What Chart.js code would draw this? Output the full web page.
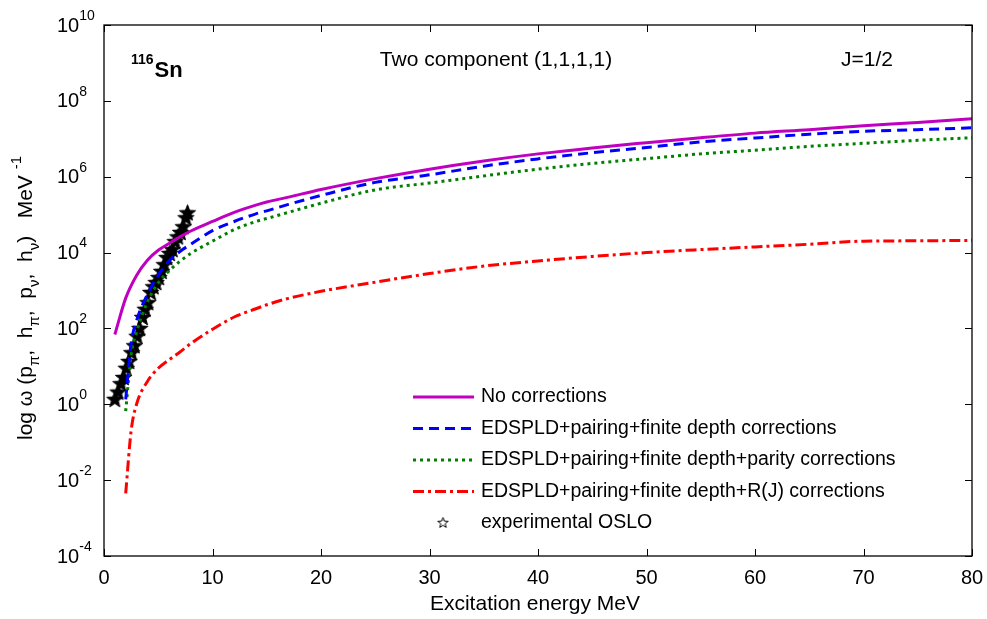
<!DOCTYPE html>
<html>
<head>
<meta charset="utf-8">
<script src="https://cdn.jsdelivr.net/npm/chart.js@4.4.0/dist/chart.umd.min.js"></script>
<style>
  html, body { margin: 0; padding: 0; background: #fff; }
  #wrap { width: 987px; height: 619px; }
</style>
</head>
<body>
<div id="wrap"><canvas id="myChart" width="987" height="619"></canvas></div>
<script>
// (x in MeV, y = level density)
var energyNoCorr = [1, 2, 3, 4, 5, 6, 7, 8, 10, 12, 14, 15, 17, 20, 25, 30, 35, 40, 45, 50, 55, 60, 65, 70, 75, 80];
var noCorr = [6.9e1, 6.3e2, 2.5e3, 6.3e3, 1.15e4, 1.74e4, 2.6e4, 3.7e4, 6.6e4, 1.15e5, 1.78e5, 2.15e5, 2.9e5, 4.6e5, 8.9e5, 1.58e6, 2.6e6, 4.0e6, 5.75e6, 7.9e6, 1.07e7, 1.41e7, 1.74e7, 2.2e7, 2.7e7, 3.4e7];

var energyCorr = [2, 2.5, 3, 4, 5, 6, 7, 8, 10, 12, 14, 15, 17, 20, 25, 30, 35, 40, 45, 50, 55, 60, 65, 70, 75, 80];
var pairingDepth = [1.35e0, 4.0e1, 1.6e2, 7.9e2, 2.5e3, 6.0e3, 1.07e4, 1.66e4, 3.8e4, 6.6e4, 1.05e5, 1.26e5, 1.86e5, 3.2e5, 7.1e5, 1.12e6, 1.9e6, 2.95e6, 4.3e6, 5.9e6, 8.3e6, 1.05e7, 1.32e7, 1.58e7, 1.74e7, 1.95e7];
var pairingDepthParity = [6.6e-1, 2.0e1, 7.9e1, 5.0e2, 1.58e3, 3.3e3, 5.9e3, 9.5e3, 2.0e4, 4.0e4, 6.6e4, 7.9e4, 1.15e5, 2.0e5, 4.5e5, 6.8e5, 1.05e6, 1.58e6, 2.24e6, 3.0e6, 4.0e6, 5.0e6, 6.3e6, 7.6e6, 9.1e6, 1.07e7];
var pairingDepthRJ = [4.5e-3, 2.0e-1, 1.0e0, 4.0e0, 8.9e0, 1.5e1, 2.4e1, 4.0e1, 9.5e1, 2.0e2, 3.3e2, 4.2e2, 6.2e2, 9.5e2, 1.66e3, 2.8e3, 4.4e3, 6.0e3, 7.9e3, 1.0e4, 1.2e4, 1.41e4, 1.66e4, 2.0e4, 2.04e4, 2.1e4];

var energyOslo = [1.0, 1.3, 1.55, 1.8, 2.05, 2.3, 2.55, 2.8, 3.05, 3.3, 3.55, 3.8, 4.05, 4.3, 4.55, 4.8, 5.05, 5.3, 5.55, 5.8, 6.05, 6.3, 6.55, 6.8, 7.05, 7.3, 7.55, 7.7];
var oslo = [1.35e0, 2.1e0, 3.5e0, 5.1e0, 8.9e0, 1.35e1, 2.3e1, 3.5e1, 6.2e1, 1.0e2, 1.95e2, 3.2e2, 4.8e2, 8.9e2, 1.26e3, 1.62e3, 2.2e3, 3.2e3, 4.8e3, 7.4e3, 9.5e3, 1.2e4, 1.95e4, 2.6e4, 3.4e4, 4.8e4, 8.3e4, 1.12e5];

var seriesNames = [
    "No corrections",
    "EDSPLD+pairing+finite depth corrections",
    "EDSPLD+pairing+finite depth+parity corrections",
    "EDSPLD+pairing+finite depth+R(J) corrections",
    "experimental OSLO"
];
var xTicks = [0, 10, 20, 30, 40, 50, 60, 70, 80];
var yTickExps = [-4, -2, 0, 2, 4, 6, 8, 10];

var FONT = "'Liberation Sans', Arial, sans-serif";

function pts(xs, ys) {
    return xs.map(function (x, i) { return { x: x, y: ys[i] }; });
}

// filled black star for the data points
function makeStar(size, filled) {
    var c = document.createElement("canvas");
    c.width = size; c.height = size;
    var g = c.getContext("2d");
    var cx = size / 2, cy = size / 2 + 0.5, R = size / 2 - 1, r = R * 0.42;
    g.beginPath();
    for (var i = 0; i < 10; i++) {
        var a = -Math.PI / 2 + i * Math.PI / 5;
        var rad = i % 2 === 0 ? R : r;
        g.lineTo(cx + rad * Math.cos(a), cy + rad * Math.sin(a));
    }
    g.closePath();
    if (filled) { g.fillStyle = "#000"; g.fill(); }
    g.strokeStyle = "#000";
    g.lineWidth = 1;
    g.stroke();
    return c;
}
var starPoint = makeStar(19, true);
var starLegend = makeStar(13, false);

function lineSet(label, data, color, dash) {
    return {
        label: label,
        data: data,
        showLine: true,
        borderColor: color,
        backgroundColor: color,
        borderWidth: 3,
        borderDash: dash,
        pointRadius: 0,
        cubicInterpolationMode: "monotone",
        fill: false
    };
}

var framePlugin = {
    id: "frame",
    afterDraw: function (chart) {
        var ctx = chart.ctx;
        var a = chart.chartArea;
        var xs = chart.scales.x, ys = chart.scales.y;
        ctx.save();
        ctx.strokeStyle = "#000";
        ctx.lineWidth = 1.3;
        ctx.strokeRect(a.left, a.top, a.right - a.left, a.bottom - a.top);

        // inward ticks
        ctx.lineWidth = 1;
        ctx.beginPath();
        xTicks.forEach(function (v) {
            var px = Math.round(xs.getPixelForValue(v)) + 0.5;
            ctx.moveTo(px, a.bottom); ctx.lineTo(px, a.bottom - 7);
            ctx.moveTo(px, a.top); ctx.lineTo(px, a.top + 7);
        });
        yTickExps.forEach(function (e) {
            var py = Math.round(ys.getPixelForValue(Math.pow(10, e))) + 0.5;
            ctx.moveTo(a.left, py); ctx.lineTo(a.left + 7, py);
            ctx.moveTo(a.right, py); ctx.lineTo(a.right - 7, py);
        });
        ctx.stroke();

        // y tick labels 10^n
        ctx.fillStyle = "#000";
        ctx.textBaseline = "middle";
        ctx.textAlign = "left";
        yTickExps.forEach(function (e) {
            var py = ys.getPixelForValue(Math.pow(10, e));
            ctx.font = "20px " + FONT;
            ctx.fillText("10", 57, py + 1);
            var w = ctx.measureText("10").width;
            ctx.font = "14px " + FONT;
            ctx.fillText(String(e), 57 + w, py - 9);
        });

        // x axis title
        ctx.font = "21px " + FONT;
        ctx.textAlign = "center";
        ctx.fillText("Excitation energy MeV", 535, 604);

        // y axis title with sub/superscripts
        var parts = [
            ["log ", 0], ["\u03c9", 0, 20], [" (p", 0], ["\u03c0", 1], [",  h", 0], ["\u03c0", 1],
            [",  p", 0], ["\u03bd", 1], [",  h", 0], ["\u03bd", 1], [")   MeV ", 0], ["-1", -1]
        ];
        function fontFor(p) {
            if (p[1] !== 0) return "15px " + FONT;
            return (p[2] || 21) + "px " + FONT;
        }
        var total = 0;
        parts.forEach(function (p) { ctx.font = fontFor(p); total += ctx.measureText(p[0]).width; });
        ctx.translate(32, 298);
        ctx.rotate(-Math.PI / 2);
        ctx.textAlign = "left";
        ctx.textBaseline = "alphabetic";
        var cx = -total / 2;
        parts.forEach(function (p) {
            ctx.font = fontFor(p);
            var dy = p[1] === 1 ? 7 : (p[1] === -1 ? -11 : 0);
            ctx.fillText(p[0], cx, dy);
            cx += ctx.measureText(p[0]).width;
        });
        ctx.setTransform(1, 0, 0, 1, 0, 0);

        // annotations
        ctx.textBaseline = "alphabetic";
        ctx.textAlign = "left";
        ctx.font = "bold 14px " + FONT;
        ctx.fillText("116", 131, 64);
        var w116 = ctx.measureText("116").width;
        ctx.font = "bold 22px " + FONT;
        ctx.fillText("Sn", 131 + w116 + 1, 77);
        ctx.font = "21px " + FONT;
        ctx.textBaseline = "middle";
        ctx.textAlign = "center";
        ctx.fillText("Two component (1,1,1,1)", 496, 60);
        ctx.textAlign = "left";
        ctx.fillText("J=1/2", 841, 60);

        // legend, built from the datasets
        ctx.font = "19.5px " + FONT;
        chart.data.datasets.forEach(function (ds, i) {
            var y = 397 + i * 31.5;
            if (ds.showLine) {
                ctx.save();
                ctx.strokeStyle = ds.borderColor;
                ctx.lineWidth = 3;
                ctx.setLineDash(ds.borderDash || []);
                ctx.beginPath();
                ctx.moveTo(413, y); ctx.lineTo(474, y);
                ctx.stroke();
                ctx.restore();
            } else {
                ctx.drawImage(starLegend, 443 - 6.5, y - 7);
            }
            ctx.fillStyle = "#000";
            ctx.textBaseline = "middle";
            ctx.fillText(ds.label, 481, y);
        });
        ctx.restore();
    }
};

new Chart(document.querySelector("#myChart").getContext("2d"), {
    type: "scatter",
    data: {
        datasets: [
            lineSet(seriesNames[0], pts(energyNoCorr, noCorr), "#bf00bf", []),
            lineSet(seriesNames[1], pts(energyCorr, pairingDepth), "#0000ff", [10, 6]),
            lineSet(seriesNames[2], pts(energyCorr, pairingDepthParity), "#008000", [3, 4]),
            lineSet(seriesNames[3], pts(energyCorr, pairingDepthRJ), "#ff0000", [11, 4, 3, 4]),
            {
                label: seriesNames[4],
                data: pts(energyOslo, oslo),
                showLine: false,
                pointStyle: starPoint,
                pointRadius: 9,
                borderColor: "#000",
                backgroundColor: "#000"
            }
        ]
    },
    options: {
        responsive: false,
        animation: false,
        layout: { padding: { left: 0, top: 25, right: 15, bottom: 0 } },
        plugins: {
            legend: { display: false },
            tooltip: { enabled: false }
        },
        scales: {
            x: {
                type: "linear",
                min: 0,
                max: 80,
                ticks: {
                    stepSize: 10,
                    color: "#000",
                    padding: 2,
                    font: { family: FONT, size: 20 }
                },
                grid: { display: false },
                border: { display: false },
                afterFit: function (s) { s.height = 63; }
            },
            y: {
                type: "logarithmic",
                min: 1e-4,
                max: 1e10,
                ticks: { display: false },
                grid: { display: false },
                border: { display: false },
                afterFit: function (s) { s.width = 104; }
            }
        }
    },
    plugins: [framePlugin]
});
</script>
</body>
</html>
